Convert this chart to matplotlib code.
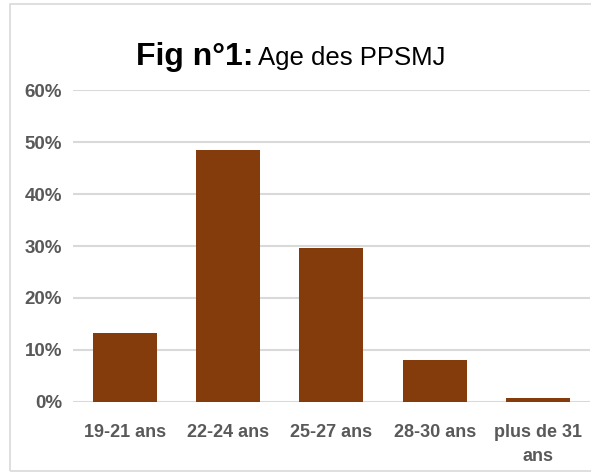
import matplotlib.pyplot as plt
from matplotlib.patches import Rectangle
from matplotlib.ticker import PercentFormatter

# Age groups and share of PPSMJ
categories = ['19-21 ans', '22-24 ans', '25-27 ans', '28-30 ans', 'plus de 31\nans']
values = [0.133, 0.485, 0.297, 0.081, 0.008]

font = ['Liberation Sans Narrow', 'Liberation Sans', 'DejaVu Sans']
plt.rcParams['font.family'] = font
gray = '#595959'

fig = plt.figure(figsize=(5.91, 4.75), dpi=100)
ax = fig.add_axes([0.1235, 0.1537, 0.8745, 0.6568])

x = range(len(categories))
ax.bar(x, values, width=0.62, color='#843C0C', zorder=3)

ax.set_ylim(0, 0.6)
ax.set_xlim(-0.5, 4.5)
ax.set_yticks([0, 0.1, 0.2, 0.3, 0.4, 0.5, 0.6])
ax.yaxis.set_major_formatter(PercentFormatter(1.0, decimals=0))
ax.set_xticks(list(x))
ax.set_xticklabels(categories)
ax.grid(axis='y', color='#D9D9D9', linewidth=1.5, zorder=0)
for s in ax.spines.values():
    s.set_visible(False)
ax.tick_params(length=0, colors=gray, labelsize=13)
ax.tick_params(axis='x', pad=16)
ax.tick_params(axis='y', pad=8, labelsize=13.5)
for lab in ax.get_xticklabels() + ax.get_yticklabels():
    lab.set_fontweight('bold')
    lab.set_linespacing(1.5)

# title in two parts
fig.text(254 / 591, 0.863, 'Fig n°1:', ha='right', va='baseline',
         fontsize=23, fontweight='bold', color='black')
fig.text(258 / 591, 0.863, 'Age des PPSMJ', ha='left', va='baseline',
         fontsize=18.5, color='black')

# light frame around the chart
fig.patches.append(Rectangle((10 / 591, 4 / 475), 1.0, 1 - 8 / 475,
                             transform=fig.transFigure, fill=False,
                             edgecolor='#D9D9D9', linewidth=1.2))

fig.savefig('out.png', dpi=100)
